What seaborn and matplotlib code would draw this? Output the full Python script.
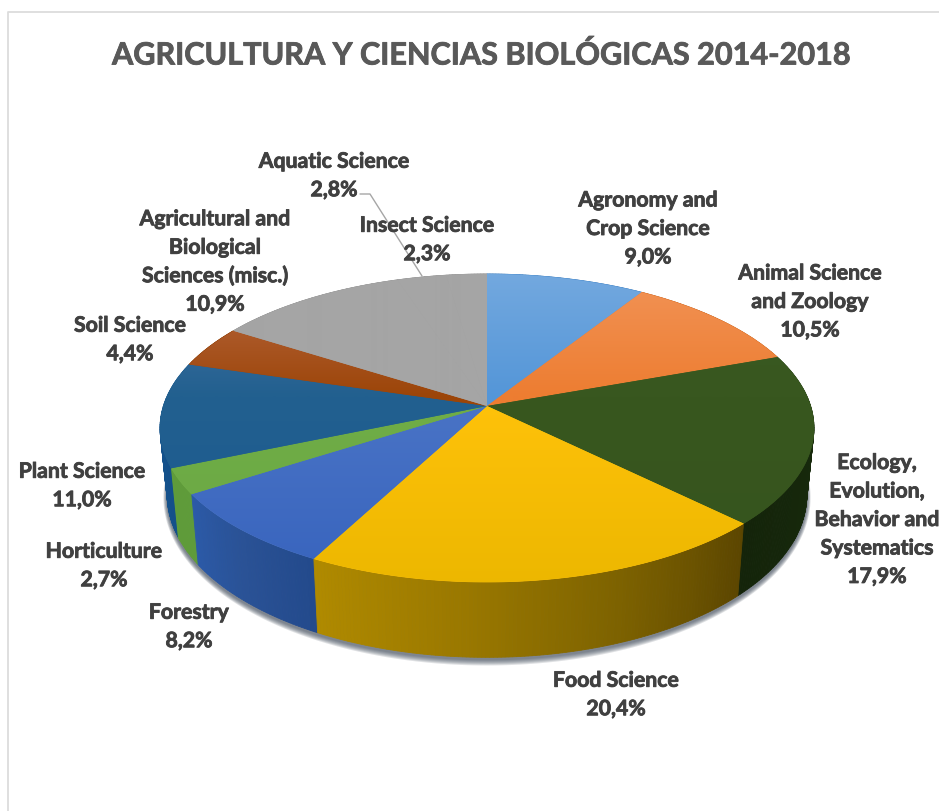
import numpy as np
import matplotlib
matplotlib.use("Agg")
import matplotlib.pyplot as plt
import matplotlib.patheffects as pe
from matplotlib.patches import Polygon
import seaborn as sns

# Field shares (%), clockwise from twelve o'clock
names = ["Agronomy and\nCrop Science", "Animal Science\nand Zoology",
         "Ecology,\nEvolution,\nBehavior and\nSystematics", "Food Science",
         "Forestry", "Horticulture", "Plant Science", "Soil Science",
         "Agricultural and\nBiological\nSciences (misc.)", "Aquatic Science",
         "Insect Science"]
shares = [9.0, 10.5, 17.9, 20.4, 8.2, 2.7, 11.0, 4.4, 10.9, 2.8, 2.3]
title = "AGRICULTURA Y CIENCIAS BIOLÓGICAS 2014-2018"

# Top-face colours: far edge, middle, near edge
top_colors = [("#74a9df", "#5496d8", "#5496d8"), ("#f29458", "#ed7d31", "#ed7d31"),
              ("#3b5b23", "#38571f", "#36541e"), ("#ffc000", "#ffc20a", "#ecb700"),
              ("#4f78c8", "#4a74c6", "#3763bd"), ("#70ad47", "#70ad47", "#6aa843"),
              ("#4a75a8", "#22608f", "#1a5890"), ("#bb6c48", "#9c4508", "#9c4508"),
              ("#a5a5a5", "#a5a5a5", "#a5a5a5"), ("#a5a5a5", "#a5a5a5", "#a5a5a5"),
              ("#a5a5a5", "#a5a5a5", "#a5a5a5")]
# Side-wall colours along each slice, clockwise
wall_colors = [("#3f76ad", "#3f76ad"), ("#a85a24", "#a85a24"),
               ("#1a2f0e", "#14240a"), ("#5c4600", "#7d6200", "#9a7800", "#b08a00"),
               ("#234a8c", "#2a5296", "#2b5aa8"), ("#5f9c3a", "#5f9c3a"),
               ("#14508a", "#165690"), ("#7a3608", "#7a3608"),
               ("#7a7a7a", "#7a7a7a"), ("#7a7a7a", "#7a7a7a"), ("#7a7a7a", "#7a7a7a")]

# Label anchor centres in canvas pixels
label_xy = [(648, 230), (810, 303), (877, 521), (616, 696), (189, 628), (104, 567),
            (82, 487), (130, 341), (215, 263), (334, 177), (427, 241)]

CX, CY = 487.0, 407.0
RADIUS, VERT, PERSP = 323.6, 150.86, 0.1429
WALL_SHRINK, WALL_TILT, WALL_DROP = 0.978, 1.053, 66.0


def rim(frac):
    """Project a cumulative pie fraction onto the tilted top rim."""
    t = 2 * np.pi * np.asarray(frac)
    den = 1 + PERSP * np.cos(t)
    return CX + RADIUS * np.sin(t) / den, CY - VERT * np.cos(t) / den


def base(x, y):
    """Project rim points down to the lower edge of the disc."""
    return CX + WALL_SHRINK * (x - CX), CY - (CY - y) * WALL_TILT + WALL_DROP


sns.set_theme(style="white")
plt.rcParams["font.family"] = ["Lato", "DejaVu Sans"]
fig = plt.figure(figsize=(9.39, 8.12), dpi=100, facecolor="white")
ax = fig.add_axes([0, 0, 1, 1])
ax.set_axis_off()

# Frame of the chart area, running off the right and bottom of the canvas
ax.plot([7.5, 7.5, 939], [812, 13, 13], color="#dcdcdc", lw=1.3, zorder=1)

# Soft drop shadow below the disc
ring = np.linspace(0, 1, 361)
rx, ry = rim(ring)
bx, by = base(rx, ry)
for grow in np.arange(6, 0, -1.0):
    sx = CX + (bx - CX) * (1 + grow / 500)
    sy = by + 2 + (by - by.mean()) * grow / 170
    ax.fill(sx, sy, color="#3c4656", alpha=0.16, lw=0, zorder=2)

# Side walls, painted back to front in short quads
edges = np.concatenate([[0], np.cumsum(shares)]) / np.sum(shares)
quads = []
for i in range(len(shares)):
    n = max(8, int(shares[i] * 6))
    pal = sns.blend_palette(wall_colors[i], n)
    f = np.linspace(edges[i], edges[i + 1], n + 1)
    x, y = rim(f)
    xb, yb = base(x, y)
    for j in range(n):
        quads.append((y[j:j + 2].mean(),
                      [(x[j], y[j]), (x[j + 1], y[j + 1]),
                       (xb[j + 1], yb[j + 1]), (xb[j], yb[j])], pal[j]))
for _, pts, col in sorted(quads, key=lambda q: q[0]):
    ax.add_patch(Polygon(pts, closed=True, facecolor=col, edgecolor=col, lw=0.6, zorder=3))

# Top face: one vertically shaded wedge per field
Y_FAR, Y_NEAR = 270, 590
for i in range(len(shares)):
    f = np.linspace(edges[i], edges[i + 1], 120)
    x, y = rim(f)
    pts = np.column_stack([np.r_[CX, x], np.r_[CY, y]])
    mid = top_colors[i][1]
    ax.add_patch(Polygon(pts, closed=True, facecolor=mid, edgecolor=mid, lw=0.5, zorder=4))
    stops = Y_NEAR - Y_FAR
    upper = sns.blend_palette(top_colors[i][:2], int(stops * 0.4))
    lower = sns.blend_palette(top_colors[i][1:], stops - int(stops * 0.4))
    shade = np.array(list(upper) + list(lower))[:, None, :]
    im = ax.imshow(shade, extent=(120, 860, Y_NEAR, Y_FAR), aspect="auto",
                   interpolation="bilinear", zorder=5)
    clip = Polygon(pts, closed=True, transform=ax.transData, facecolor="none", edgecolor="none")
    ax.add_patch(clip)
    im.set_clip_path(clip)

# Leader line for the Aquatic Science label
ax.plot([360, 370, 422], [195, 195, 277], color="#a6a6a6", lw=1.0, zorder=6)

ax.set_xlim(0, 939)
ax.set_ylim(812, 0)

# Data labels built from each share, with a decimal comma
heavy = [pe.withStroke(linewidth=0.6, foreground="#404040")]
for name, v, (lx, ly) in zip(names, shares, label_xy):
    pct = f"{v:.1f}%".replace(".", ",")
    ax.text(lx, ly, f"{name}\n{pct}", ha="center", va="center", ma="center",
            fontsize=15.3, fontweight="bold", color="#404040",
            linespacing=1.53, zorder=7, path_effects=heavy)

ax.text(482, 56, title, ha="center", va="center", fontsize=22.05, fontweight="bold",
        color="#595959", zorder=7,
        path_effects=[pe.withStroke(linewidth=0.6, foreground="#595959")])

fig.savefig("out.png", dpi=100)
